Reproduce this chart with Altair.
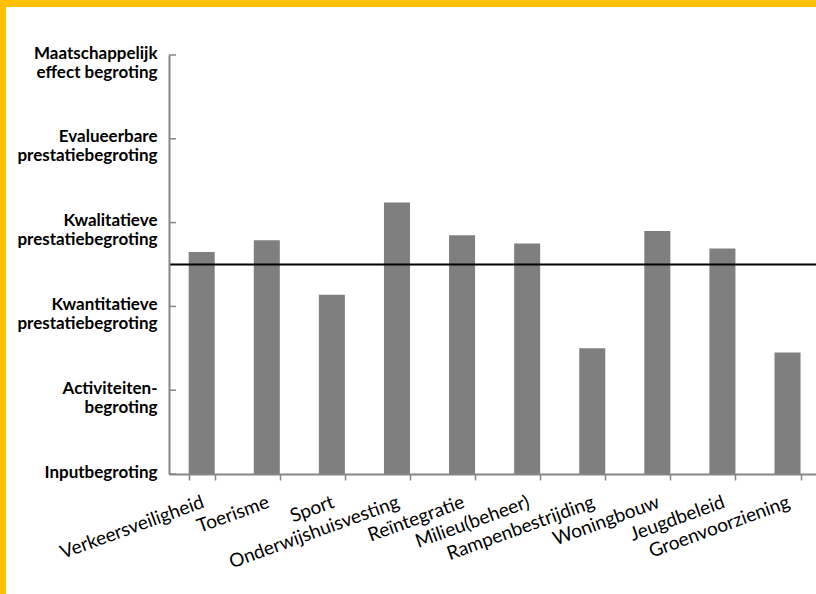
import altair as alt
import pandas as pd

categories = ["Verkeersveiligheid", "Toerisme", "Sport", "Onderwijshuisvesting",
              "Reïntegratie", "Milieu(beheer)", "Rampenbestrijding", "Woningbouw",
              "Jeugdbeleid", "Groenvoorziening"]
values = [2.65, 2.79, 2.14, 3.24, 2.85, 2.75, 1.50, 2.90, 2.69, 1.45]
threshold = 2.5
tick_values = [0, 1, 2, 3, 4, 5]
level_labels = [["Inputbegroting"],
                ["Activiteiten-", "begroting"],
                ["Kwantitatieve", "prestatiebegroting"],
                ["Kwalitatieve", "prestatiebegroting"],
                ["Evalueerbare", "prestatiebegroting"],
                ["Maatschappelijk", "effect begroting"]]

W, H = 647, 419
df = pd.DataFrame({"cat": categories, "val": values})
ticks_df = pd.DataFrame({"t": tick_values})

label_expr = "[" + ",".join("[" + ",".join("'" + s + "'" for s in lab) + "]" for lab in level_labels) + "][datum.value]"

yscale = alt.Scale(domain=[0, 5], nice=False, zero=True)

panel = alt.Chart(pd.DataFrame({"a": [0]})).mark_rect(color="white").encode(
    x=alt.value(-163), x2=alt.value(W + 20), y=alt.value(-48), y2=alt.value(H + 140))

bars = alt.Chart(df).mark_bar(color="#7f7f7f").encode(
    x=alt.X("cat:N", sort=None, title=None,
            scale=alt.Scale(paddingInner=0.6, paddingOuter=0.27, align=0.56),
            axis=alt.Axis(labelAngle=340, labelAlign="right", labelBaseline="middle",
                          labelFont="Lato", labelFontSize=19, labelColor="black",
                          labelPadding=21, labelOffset=1, tickBand="extent",
                          tickColor="#868686", tickSize=6, tickWidth=1.5,
                          domainColor="#868686", domainWidth=2, labelLimit=300,
                          zindex=1)),
    y=alt.Y("val:Q", scale=yscale, title=None,
            axis=alt.Axis(values=tick_values, labelExpr=label_expr, grid=False,
                          labelFont="Lato", labelFontSize=17, labelFontWeight="bold",
                          labelColor="black", labelBaseline="top", labelOffset=-10,
                          labelLineHeight=19, labelPadding=12, tickSize=0,
                          domainColor="#868686", domainWidth=2, labelLimit=300,
                          zindex=1)))

ticks = alt.Chart(ticks_df).mark_rule(color="#868686", strokeWidth=1.5).encode(
    y=alt.Y("t:Q", scale=yscale), x=alt.value(0), x2=alt.value(7))

rule = alt.Chart(pd.DataFrame({"v": [threshold]})).mark_rule(color="black", strokeWidth=2).encode(
    y=alt.Y("v:Q", scale=yscale))

chart = alt.layer(panel, bars, ticks, rule).properties(
    width=W, height=H, background="#FFC000",
    padding={"left": 169, "top": 55, "right": 0, "bottom": 120},
    autosize=alt.AutoSizeParams(type="none"),
).configure_view(stroke=None)

chart.save("out.html", embed_options={"renderer": "svg", "actions": False})
